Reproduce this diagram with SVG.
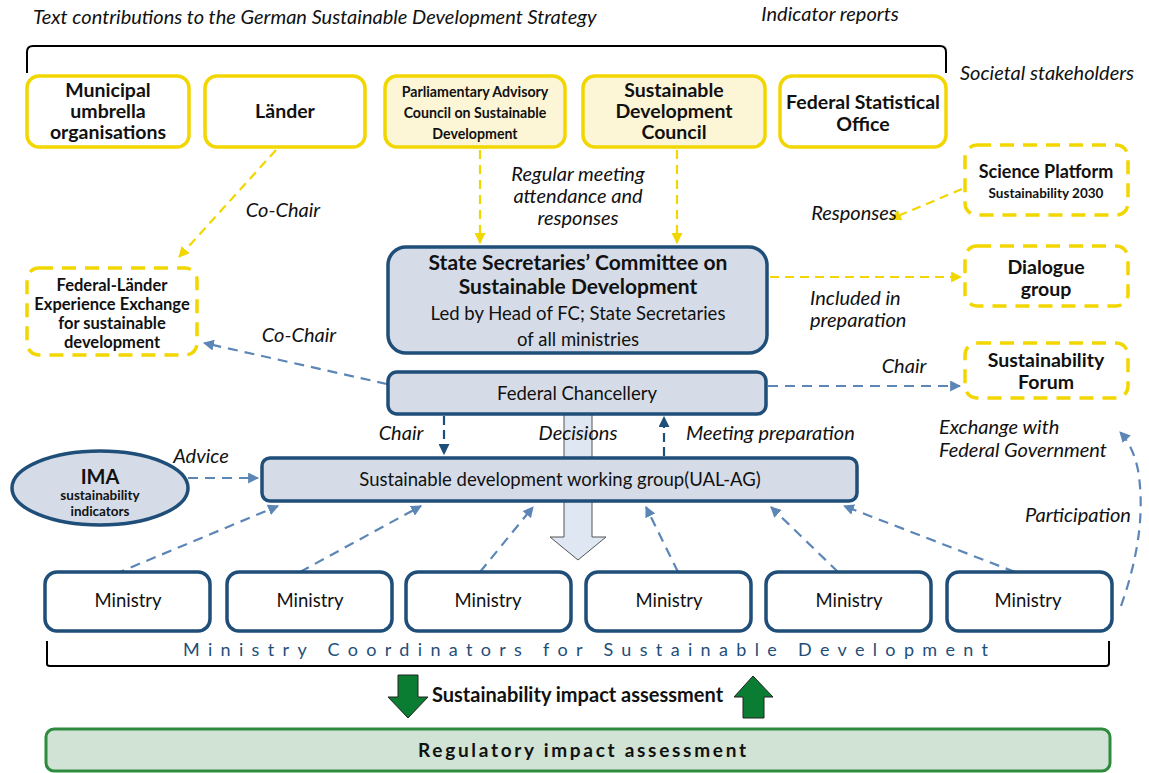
<svg xmlns="http://www.w3.org/2000/svg" width="1149" height="773" viewBox="0 0 1149 773">
<style>
text{font-family:Lato,"Noto Sans",sans-serif;fill:#111}
.it{font-style:italic;font-size:20px}
.b{font-weight:bold}
.c{text-anchor:middle}
.yb{fill:#fff;stroke:#f2d600;stroke-width:3.5}
.yf{fill:#fdf6d6;stroke:#f2d600;stroke-width:3.5}
.yd{fill:#fff;stroke:#f2d600;stroke-width:3.5;stroke-dasharray:14,9}
.bb{fill:#d5dce8;stroke:#1f4e79;stroke-width:3.5}
.mb{fill:#fff;stroke:#1f4e79;stroke-width:3.5}
.yc{fill:none;stroke:#f2d600;stroke-width:2.2;stroke-dasharray:9,6}
.bc{fill:none;stroke:#5b86b6;stroke-width:2.2;stroke-dasharray:10,7}
.dc{fill:none;stroke:#1f4e79;stroke-width:2.2;stroke-dasharray:9,5}
.brk{fill:none;stroke:#000;stroke-width:2}
</style>
<defs>
<marker id="ay" viewBox="0 0 10 10" refX="9" refY="5" markerWidth="5" markerHeight="5" orient="auto" markerUnits="strokeWidth"><path d="M0,0L10,5L0,10z" fill="#f2d600"/></marker>
<marker id="ab" viewBox="0 0 10 10" refX="9" refY="5" markerWidth="5" markerHeight="5" orient="auto" markerUnits="strokeWidth"><path d="M0,0L10,5L0,10z" fill="#5b86b6"/></marker>
<marker id="ad" viewBox="0 0 10 10" refX="9" refY="5" markerWidth="5" markerHeight="5" orient="auto" markerUnits="strokeWidth"><path d="M0,0L10,5L0,10z" fill="#1f4e79"/></marker>
</defs>

<!-- top labels and bracket -->
<text class="it" x="33" y="24">Text contributions to the German Sustainable Development Strategy</text>
<text class="it c" x="830" y="21">Indicator reports</text>
<text class="it" x="960" y="80">Societal stakeholders</text>
<path class="brk" d="M27,73 V52 Q27,46 33,46 H940 Q946,46 946,52 V73"/>

<!-- big decisions arrow (behind) -->
<g id="decisions-arrow">
<path d="M564,414 H592 V537 H606 L578,560 L550,537 H564 Z" fill="#dfe7f2" stroke="#555" stroke-width="1"/>
</g>

<!-- connectors -->
<g id="connectors">
<line class="yc" x1="276" y1="150" x2="179" y2="257" marker-end="url(#ay)"/>
<line class="yc" x1="480" y1="150" x2="480" y2="243" marker-end="url(#ay)"/>
<line class="yc" x1="677" y1="150" x2="677" y2="243" marker-end="url(#ay)"/>
<line class="yc" x1="962" y1="189" x2="891" y2="219" marker-end="url(#ay)"/>
<line class="yc" x1="770" y1="277" x2="961" y2="277" marker-end="url(#ay)"/>
<line class="bc" x1="387" y1="384" x2="204" y2="343" marker-end="url(#ab)"/>
<line class="bc" x1="768" y1="386" x2="960" y2="386" marker-end="url(#ab)"/>
<line class="dc" x1="444" y1="416" x2="444" y2="454" marker-end="url(#ad)"/>
<line class="dc" x1="664" y1="456" x2="664" y2="417" marker-end="url(#ad)"/>
<line class="bc" x1="188" y1="478" x2="258" y2="478" marker-end="url(#ab)"/>
<line class="bc" x1="115" y1="574" x2="278" y2="506" marker-end="url(#ab)"/>
<line class="bc" x1="300" y1="572" x2="421" y2="506" marker-end="url(#ab)"/>
<line class="bc" x1="480" y1="572" x2="533" y2="507" marker-end="url(#ab)"/>
<line class="bc" x1="678" y1="572" x2="646" y2="507" marker-end="url(#ab)"/>
<line class="bc" x1="838" y1="572" x2="771" y2="507" marker-end="url(#ab)"/>
<line class="bc" x1="1015" y1="572" x2="844" y2="506" marker-end="url(#ab)"/>
<path class="bc" d="M1121,606 Q1148,530 1138,470 Q1133,446 1120,432" marker-end="url(#ab)"/>
</g>

<!-- connector labels -->
<g id="labels">
<text class="it c" x="283" y="217">Co-Chair</text>
<text class="it c" x="578" y="181" font-size="19">Regular meeting</text>
<text class="it c" x="578" y="203" font-size="19">attendance and</text>
<text class="it c" x="578" y="225" font-size="19">responses</text>
<text class="it c" x="854" y="220">Responses</text>
<text class="it" x="810" y="305">Included in</text>
<text class="it" x="810" y="327">preparation</text>
<text class="it c" x="299" y="342">Co-Chair</text>
<text class="it c" x="904" y="373">Chair</text>
<text class="it c" x="401" y="440">Chair</text>
<text class="it c" x="578" y="440">Decisions</text>
<text class="it" x="686" y="440">Meeting preparation</text>
<text class="it c" x="201" y="463">Advice</text>
<text class="it" x="939" y="434">Exchange with</text>
<text class="it" x="939" y="457">Federal Government</text>
<text class="it" x="1025" y="522">Participation</text>
</g>

<!-- top row -->
<g id="municipal"><rect class="yb" x="27" y="76" width="162" height="71" rx="12"/>
<text class="b c" font-size="19.5" x="108" y="97">Municipal</text><text class="b c" font-size="19.5" x="108" y="118">umbrella</text><text class="b c" font-size="19.5" x="108" y="139">organisations</text></g>
<g id="laender"><rect class="yb" x="205" y="76" width="160" height="71" rx="12"/>
<text class="b c" font-size="19.5" x="285" y="118">Länder</text></g>
<g id="parliamentary"><rect class="yf" x="385" y="76" width="180" height="71" rx="12"/>
<text class="b c" font-size="14.2" x="475" y="97">Parliamentary Advisory</text><text class="b c" font-size="14.2" x="475" y="118">Council on Sustainable</text><text class="b c" font-size="14.2" x="475" y="139">Development</text></g>
<g id="sdc"><rect class="yf" x="583" y="76" width="182" height="71" rx="12"/>
<text class="b c" font-size="19.5" x="674" y="97">Sustainable</text><text class="b c" font-size="19.5" x="674" y="118">Development</text><text class="b c" font-size="19.5" x="674" y="139">Council</text></g>
<g id="destatis"><rect class="yb" x="780" y="76" width="166" height="71" rx="12"/>
<text class="b c" font-size="19.5" x="863" y="109">Federal Statistical</text><text class="b c" font-size="19.5" x="863" y="131">Office</text></g>

<!-- right dashed boxes -->
<g id="science"><rect class="yd" x="965" y="145" width="163" height="70" rx="12"/>
<text class="b c" font-size="18" x="1046" y="178">Science Platform</text><text class="b c" font-size="13.5" x="1046" y="198">Sustainability 2030</text></g>
<g id="dialogue"><rect class="yd" x="965" y="246" width="163" height="60" rx="12"/>
<text class="b c" font-size="19.5" x="1046" y="274">Dialogue</text><text class="b c" font-size="19.5" x="1046" y="296">group</text></g>
<g id="forum"><rect class="yd" x="965" y="343" width="163" height="55" rx="12"/>
<text class="b c" font-size="19.5" x="1046" y="367">Sustainability</text><text class="b c" font-size="19.5" x="1046" y="389">Forum</text></g>

<g id="federal-laender"><rect class="yd" x="27" y="268" width="170" height="87" rx="12"/>
<text class="b c" font-size="16.5" x="112" y="291">Federal-Länder</text><text class="b c" font-size="16.5" x="112" y="310">Experience Exchange</text><text class="b c" font-size="16.5" x="112" y="329">for sustainable</text><text class="b c" font-size="16.5" x="112" y="348">development</text></g>

<!-- blue boxes -->
<g id="state-secretaries"><rect class="bb" x="388" y="247" width="379" height="106" rx="18"/>
<text class="b c" font-size="21" x="578" y="270">State Secretaries’ Committee on</text><text class="b c" font-size="21" x="578" y="294">Sustainable Development</text>
<text class="c" font-size="18.5" x="578" y="320">Led by Head of FC; State Secretaries</text><text class="c" font-size="18.5" x="578" y="346">of all ministries</text></g>
<g id="chancellery"><rect class="bb" x="388" y="372" width="378" height="42" rx="9"/>
<text class="c" font-size="18.5" x="577" y="400">Federal Chancellery</text></g>
<g id="ual-ag"><rect class="bb" x="262" y="458" width="595" height="43" rx="8"/>
<text class="c" font-size="18.5" x="560" y="486">Sustainable development working group(UAL-AG)</text></g>
<g id="ima"><ellipse class="bb" cx="100" cy="488" rx="88" ry="37"/>
<text class="b c" font-size="20" x="100" y="484">IMA</text><text class="b c" font-size="13.5" x="100" y="500">sustainability</text><text class="b c" font-size="13.5" x="100" y="516">indicators</text></g>

<!-- ministries -->
<g id="ministry1"><rect class="mb" x="45" y="572" width="165" height="59" rx="12"/><text class="c" font-size="18.5" x="128" y="607">Ministry</text></g>
<g id="ministry2"><rect class="mb" x="227" y="572" width="165" height="59" rx="12"/><text class="c" font-size="18.5" x="310" y="607">Ministry</text></g>
<g id="ministry3"><rect class="mb" x="406" y="572" width="165" height="59" rx="12"/><text class="c" font-size="18.5" x="488" y="607">Ministry</text></g>
<g id="ministry4"><rect class="mb" x="586" y="572" width="165" height="59" rx="12"/><text class="c" font-size="18.5" x="669" y="607">Ministry</text></g>
<g id="ministry5"><rect class="mb" x="766" y="572" width="165" height="59" rx="12"/><text class="c" font-size="18.5" x="849" y="607">Ministry</text></g>
<g id="ministry6"><rect class="mb" x="947" y="572" width="165" height="59" rx="12"/><text class="c" font-size="18.5" x="1028" y="607">Ministry</text></g>

<path class="brk" d="M47,641 V664 Q47,666 50,666 H1106 Q1109,666 1109,663 V641"/>
<text font-size="18" x="183" y="656" textLength="805" lengthAdjust="spacing" style="fill:#1f4e79">Ministry Coordinators for Sustainable Development</text>

<!-- green arrows -->
<g id="sia">
<path d="M398,675 H418 V697 H428 L408,718 L388,697 H398 Z" fill="#0b7d33" stroke="#222" stroke-width="1"/>
<path d="M743,718 H764 V697 H773 L753,676 L734,697 H743 Z" fill="#0b7d33" stroke="#222" stroke-width="1"/>
<text class="b" font-size="20" x="432" y="702">Sustainability impact assessment</text>
</g>
<g id="regulatory"><rect x="46" y="729" width="1064" height="42" rx="8" fill="#d0e3d4" stroke="#2e8b3e" stroke-width="3"/>
<text class="b" font-size="19" x="418" y="757" textLength="328" lengthAdjust="spacing">Regulatory impact assessment</text></g>
</svg>
